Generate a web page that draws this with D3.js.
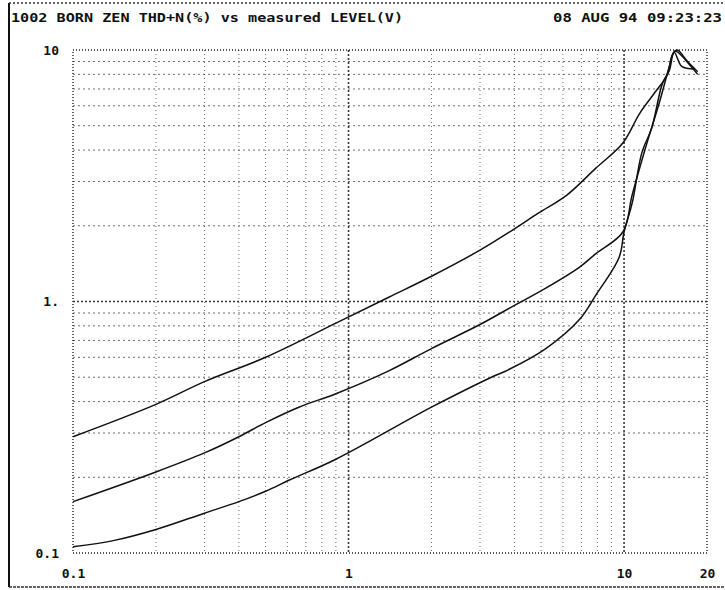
<!DOCTYPE html>
<html>
<head>
<meta charset="utf-8">
<script src="https://cdn.jsdelivr.net/npm/d3@7"></script>
<style>
  body { margin: 0; background: #fff; }
  svg text { font-family: "DejaVu Sans Mono", "Liberation Mono", monospace; font-weight: bold; fill: #111; }
</style>
</head>
<body>
<script>
// Chart text
const titleText = "1002 BORN ZEN THD+N(%) vs measured LEVEL(V)";
const dateText = "08 AUG 94 09:23:23";

// Axis ticks
const xTicks = [0.1, 1, 10, 20];
const xTickLabels = ["0.1", "1", "10", "20"];
const yTicks = [0.1, 1, 10];
const yTickLabels = ["0.1", "1.", "10"];
const xGrid = [0.2, 0.3, 0.4, 0.5, 0.6, 0.7, 0.8, 0.9, 1, 2, 3, 4, 5, 6, 7, 8, 9, 10];
const yGrid = [0.2, 0.3, 0.4, 0.5, 0.6, 0.7, 0.8, 0.9, 1, 2, 3, 4, 5, 6, 7, 8, 9];

// Upper trace
const levelA = [0.1, 0.2, 0.3, 0.5, 0.9, 1.4, 2, 3, 3.9, 4.9, 6.2, 7.9, 9.9, 11.4, 13.1, 14.3, 15.0, 15.6, 17.0, 18.5];
const thdA   = [0.29, 0.39, 0.48, 0.60, 0.82, 1.04, 1.26, 1.60, 1.91, 2.25, 2.65, 3.39, 4.27, 5.6, 6.9, 7.9, 9.6, 10, 9.0, 8.2];

// Middle trace
const levelB = [0.1, 0.2, 0.3, 0.4, 0.5, 0.66, 0.9, 1.4, 2, 3, 3.9, 5.2, 6.9, 7.9, 9.9, 10.7, 11.9, 13.5, 14.6, 15.2, 16.2, 18.0];
const thdB   = [0.16, 0.21, 0.25, 0.29, 0.33, 0.38, 0.43, 0.53, 0.65, 0.81, 0.95, 1.13, 1.37, 1.55, 1.89, 2.65, 4.0, 6.3, 8.6, 9.8, 8.6, 8.4];

// Lower trace
const levelC = [0.1, 0.14, 0.2, 0.3, 0.4, 0.5, 0.61, 0.9, 2, 3.3, 3.8, 5.2, 6.9, 7.9, 9.6, 10, 10.7, 11.6, 12.6, 13.8, 14.6, 15.3, 17.5, 18.5];
const thdC   = [0.106, 0.112, 0.124, 0.144, 0.16, 0.176, 0.195, 0.236, 0.38, 0.50, 0.535, 0.65, 0.85, 1.06, 1.5, 1.89, 2.46, 3.9, 4.9, 7.4, 8.3, 9.9, 8.6, 8.0];

const series = [
  { x: levelA, y: thdA },
  { x: levelB, y: thdB },
  { x: levelC, y: thdC }
];

const width = 725;
const height = 590;
const margin = { top: 50, right: 18, bottom: 37, left: 73 };

const svg = d3.select("body")
  .append("svg")
  .attr("width", width)
  .attr("height", height);

const x = d3.scaleLog()
  .domain([0.1, 20])
  .range([margin.left, width - margin.right]);

const y = d3.scaleLog()
  .domain([0.1, 10])
  .range([height - margin.bottom, margin.top]);

// Outer frame of the printout
svg.append("line")
  .attr("x1", 9).attr("x2", 9).attr("y1", 3).attr("y2", 587)
  .attr("stroke", "#111").attr("stroke-width", 2);
svg.append("line")
  .attr("x1", 9).attr("x2", 725).attr("y1", 3).attr("y2", 3)
  .attr("stroke", "#333").attr("stroke-width", 1.5).attr("stroke-dasharray", "2,2");
svg.append("line")
  .attr("x1", 9).attr("x2", 725).attr("y1", 587).attr("y2", 587)
  .attr("stroke", "#333").attr("stroke-width", 1.5).attr("stroke-dasharray", "3,1");

// Title and date
svg.append("text")
  .attr("x", 11).attr("y", 22)
  .attr("font-size", 13)
  .attr("textLength", 392)
  .attr("lengthAdjust", "spacingAndGlyphs")
  .text(titleText);
svg.append("text")
  .attr("x", 553).attr("y", 22)
  .attr("font-size", 13)
  .attr("textLength", 169)
  .attr("lengthAdjust", "spacingAndGlyphs")
  .text(dateText);

// Grid lines
const grid = svg.append("g")
  .attr("stroke", "#222")
  .attr("fill", "none");

grid.selectAll("line.vx")
  .data(xGrid)
  .join("line")
  .attr("class", "vx")
  .attr("x1", d => x(d)).attr("x2", d => x(d))
  .attr("y1", y(10)).attr("y2", y(0.1))
  .attr("stroke-width", d => (d === 1 || d === 10) ? 1.6 : 1)
  .attr("stroke-dasharray", d => (d === 1 || d === 10) ? "2,2" : "1,3")
  .attr("opacity", d => (d === 1 || d === 10) ? 0.9 : 0.65);

grid.selectAll("line.hy")
  .data(yGrid)
  .join("line")
  .attr("class", "hy")
  .attr("x1", x(0.1)).attr("x2", x(20))
  .attr("y1", d => y(d)).attr("y2", d => y(d))
  .attr("stroke-width", d => d === 1 ? 1.6 : 1)
  .attr("stroke-dasharray", d => d === 1 ? "2,2" : "2,3")
  .attr("opacity", d => d === 1 ? 0.9 : 0.65);

// Plot border (dotted like the plotter output)
grid.append("rect")
  .attr("x", x(0.1)).attr("y", y(10))
  .attr("width", x(20) - x(0.1))
  .attr("height", y(0.1) - y(10))
  .attr("stroke-width", 1.4)
  .attr("stroke-dasharray", "1,2");

// Tick labels through axes
const xAxis = svg.append("g")
  .attr("transform", `translate(0,${height - 8})`)
  .call(d3.axisBottom(x).tickValues(xTicks).tickSize(0)
    .tickFormat((d, i) => xTickLabels[i]));
xAxis.select(".domain").remove();
xAxis.selectAll("text")
  .attr("font-size", 13)
  .attr("dy", 0)
  .attr("y", -4);

const yAxis = svg.append("g")
  .attr("transform", `translate(${margin.left - 14},0)`)
  .call(d3.axisLeft(y).tickValues(yTicks).tickSize(0)
    .tickFormat((d, i) => yTickLabels[i]));
yAxis.select(".domain").remove();
yAxis.selectAll("text")
  .attr("font-size", 13)
  .attr("x", 0);

// Traces
const line = d3.line()
  .x(d => x(d[0]))
  .y(d => y(d[1]))
  .curve(d3.curveCatmullRom.alpha(0.5));

svg.append("g")
  .selectAll("path")
  .data(series)
  .join("path")
  .attr("fill", "none")
  .attr("stroke", "#111")
  .attr("stroke-width", 1.5)
  .attr("d", s => line(s.x.map((v, i) => [v, s.y[i]])));
</script>
</body>
</html>
